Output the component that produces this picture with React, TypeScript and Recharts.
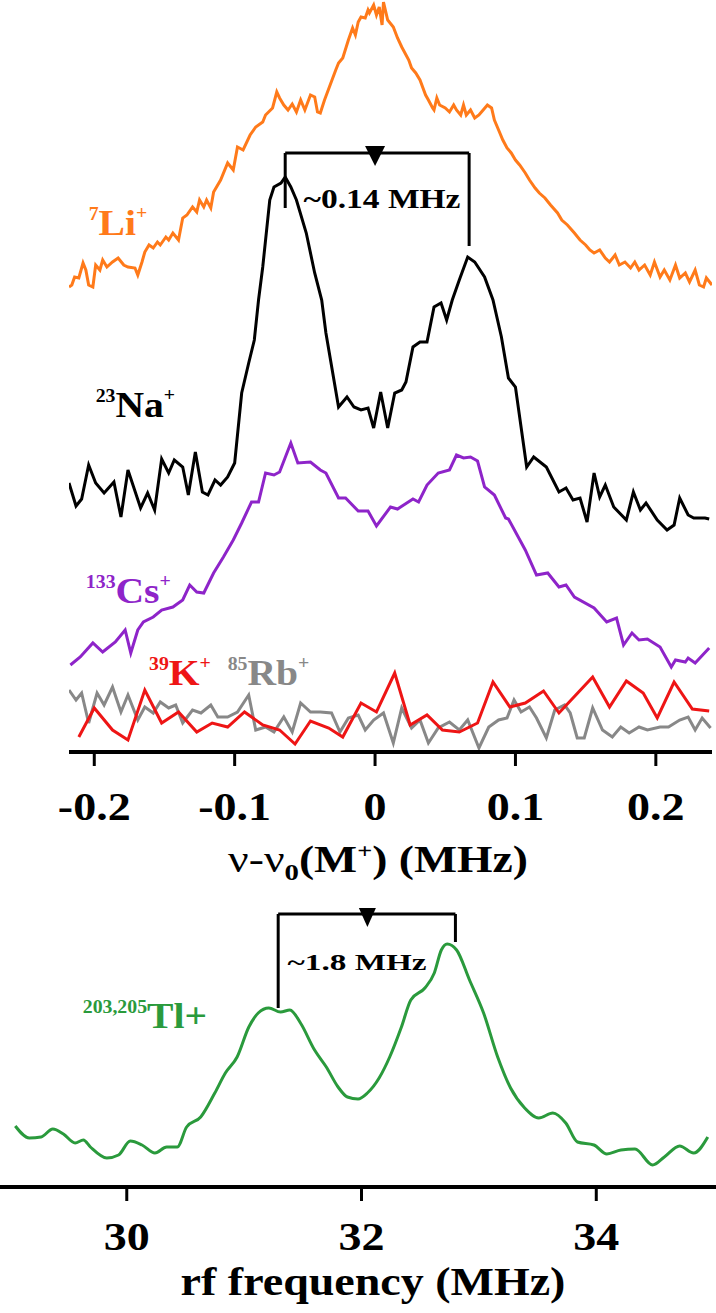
import React from 'react';
import { LineChart, Line, XAxis, YAxis, ReferenceLine, ReferenceDot } from 'recharts';

const SERIF = '"Liberation Serif", "Times New Roman", serif';

// top panel: detuning in kHz, signal in a.u. (traces already offset)
const liFreq = [-218, -216, -214, -211, -208, -206, -204, -201, -199, -196, -194, -191, -187, -183, -179, -176, -171, -169, -166, -164, -161, -158, -155, -153, -149, -147, -144, -140, -137, -134, -130, -127, -125, -122, -120, -117, -115, -110, -105, -101, -98, -94, -89, -85, -80, -78, -73, -70, -68, -65, -62, -59, -56, -53, -50, -46, -43, -41, -39, -36, -32, -28, -26, -23, -19, -16, -14, -12, -10, -7, -5, -4, -1, 1, 3, 5, 6, 9, 13, 16, 19, 24, 26, 29, 32, 36, 38, 41, 42, 44, 46, 50, 53, 56, 58, 61, 63, 65, 68, 71, 74, 77, 80, 83, 85, 88, 91, 94, 97, 100, 103, 107, 110, 114, 117, 121, 125, 130, 133, 137, 142, 146, 150, 153, 156, 160, 164, 167, 171, 174, 178, 182, 185, 188, 192, 196, 199, 203, 206, 210, 214, 217, 221, 224, 228, 231, 234, 236, 240];
const liSignal = [465, 467, 475, 474, 489, 482, 467, 465, 487, 482, 492, 485, 490, 494, 487, 485, 484, 477, 490, 500, 507, 504, 510, 507, 515, 512, 519, 512, 534, 537, 545, 540, 552, 545, 552, 544, 560, 572, 589, 582, 605, 602, 617, 625, 630, 637, 644, 660, 654, 647, 642, 648, 640, 652, 642, 657, 655, 640, 639, 652, 667, 682, 689, 694, 712, 724, 717, 730, 735, 734, 742, 739, 747, 737, 745, 727, 750, 732, 725, 714, 705, 692, 684, 679, 672, 657, 652, 644, 642, 654, 647, 644, 640, 647, 642, 637, 647, 637, 642, 634, 637, 642, 647, 644, 632, 622, 612, 604, 599, 592, 587, 579, 572, 564, 559, 554, 547, 539, 532, 527, 519, 512, 507, 502, 499, 502, 494, 490, 497, 487, 490, 484, 490, 482, 487, 477, 490, 475, 482, 472, 487, 474, 479, 470, 482, 467, 465, 474, 467];

const naFreq = [-218, -213, -209, -204, -199, -193, -186, -181, -176, -167, -162, -157, -152, -147, -143, -137, -133, -128, -123, -119, -114, -110, -105, -100, -95, -90, -86, -83, -80, -75, -72, -67, -64, -60, -56, -49, -43, -38, -35, -26, -20, -15, -10, -5, -1, 4, 9, 14, 19, 22, 27, 32, 37, 42, 47, 51, 55, 60, 66, 71, 78, 84, 90, 95, 100, 108, 113, 122, 131, 136, 141, 146, 151, 156, 160, 164, 170, 179, 184, 189, 193, 201, 208, 213, 217, 223, 227, 235, 238];
const naSignal = [269, 246, 253, 287, 269, 259, 270, 235, 282, 244, 259, 242, 293, 279, 292, 285, 257, 300, 260, 257, 272, 267, 275, 289, 359, 389, 412, 452, 485, 552, 565, 569, 575, 565, 552, 519, 479, 452, 419, 345, 355, 345, 342, 344, 324, 360, 324, 359, 362, 370, 405, 410, 410, 445, 449, 432, 452, 472, 495, 490, 475, 452, 415, 374, 365, 285, 295, 285, 260, 264, 252, 254, 230, 279, 255, 267, 245, 232, 260, 242, 249, 232, 222, 227, 254, 237, 234, 234, 233];

const csFreq = [-217, -210, -201, -194, -185, -178, -174, -169, -165, -158, -152, -144, -137, -132, -127, -122, -115, -108, -101, -95, -88, -83, -78, -72, -68, -60, -55, -46, -39, -35, -26, -21, -12, -5, 1, 11, 16, 27, 31, 37, 45, 53, 58, 63, 68, 73, 78, 85, 93, 95, 107, 115, 123, 131, 136, 142, 156, 165, 172, 177, 183, 188, 194, 203, 211, 214, 221, 223, 228, 238];
const csSignal = [87, 95, 109, 100, 110, 122, 99, 122, 130, 135, 142, 145, 152, 167, 160, 159, 179, 195, 212, 229, 250, 250, 279, 277, 280, 309, 289, 290, 282, 279, 254, 254, 241, 241, 226, 245, 243, 253, 250, 267, 279, 282, 297, 294, 295, 291, 265, 257, 234, 233, 202, 177, 179, 165, 167, 155, 144, 130, 134, 107, 119, 112, 113, 105, 85, 92, 90, 94, 89, 104];

const kFreq = [-211, -200, -187, -176, -164, -152, -140, -127, -116, -105, -93, -80, -68, -57, -46, -33, -23, -10, 1, 14, 25, 37, 48, 60, 73, 84, 96, 107, 120, 131, 143, 155, 167, 179, 191, 201, 213, 226, 238];
const kSignal = [15, 44, 22, 12, 62, 29, 40, 20, 29, 25, 40, 27, 22, 8, 31, 24, 15, 49, 40, 79, 27, 37, 22, 20, 29, 70, 45, 49, 61, 39, 57, 75, 45, 71, 59, 34, 70, 43, 41];

const rbFreq = [-218, -213, -209, -204, -198, -193, -187, -181, -176, -169, -164, -158, -153, -147, -142, -137, -130, -124, -117, -112, -105, -98, -90, -85, -78, -72, -65, -59, -53, -46, -39, -31, -25, -19, -12, -7, -1, 6, 13, 19, 26, 32, 38, 45, 53, 60, 66, 74, 81, 88, 94, 99, 104, 110, 115, 122, 128, 135, 139, 144, 149, 155, 162, 169, 175, 181, 188, 194, 203, 209, 217, 223, 228, 233, 239];
const rbSignal = [62, 52, 59, 29, 59, 47, 65, 40, 57, 32, 45, 39, 50, 44, 47, 29, 42, 39, 47, 35, 35, 40, 57, 22, 25, 20, 35, 20, 49, 40, 40, 39, 20, 34, 37, 22, 32, 39, 9, 44, 24, 32, 9, 24, 30, 22, 32, 4, 25, 32, 34, 52, 40, 45, 34, 14, 42, 47, 39, 14, 14, 44, 22, 15, 25, 19, 25, 22, 25, 25, 32, 35, 22, 34, 24];

const topTicks = [-200, -100, 0, 100, 200];

// bottom panel: rf frequency in MHz
const tlFreq = [29.05, 29.17, 29.27, 29.37, 29.46, 29.56, 29.63, 29.69, 29.83, 29.93, 30.03, 30.13, 30.24, 30.34, 30.43, 30.51, 30.63, 30.75, 30.84, 30.94, 31.04, 31.12, 31.21, 31.31, 31.39, 31.48, 31.6, 31.7, 31.8, 31.88, 31.97, 32.05, 32.15, 32.24, 32.34, 32.42, 32.54, 32.62, 32.68, 32.73, 32.81, 32.92, 33.04, 33.16, 33.27, 33.39, 33.51, 33.63, 33.74, 33.84, 33.98, 34.09, 34.21, 34.33, 34.48, 34.58, 34.71, 34.83, 34.95];
const tlSignal = [61, 49, 50, 58, 53, 44, 47, 40, 29, 32, 46, 42, 34, 40, 40, 60, 70, 94, 114, 130, 160, 174, 179, 175, 177, 164, 137, 120, 100, 90, 88, 94, 109, 130, 160, 187, 199, 214, 237, 243, 237, 207, 174, 130, 99, 79, 69, 74, 64, 45, 42, 33, 37, 38, 22, 30, 41, 34, 50];

const bottomTicks = [30, 32, 34];

const zip = (f: number[], s: number[]) => f.map((v, i) => ({ f: v, s: s[i] }));

const liData = zip(liFreq, liSignal);
const naData = zip(naFreq, naSignal);
const csData = zip(csFreq, csSignal);
const kData = zip(kFreq, kSignal);
const rbData = zip(rbFreq, rbSignal);
const tlData = zip(tlFreq, tlSignal);

const ionLabel = (mass: string, symbol: string, color: string, bigPlus = false) => (p: any) => (
  <g transform={`translate(${p.cx},${p.cy}) scale(1.1,1)`}>
    <text fontFamily={SERIF} fontWeight="bold" fill={color}>
      <tspan fontSize={18} dy={-15}>{mass}</tspan>
      <tspan fontSize={36} dy={15}>{symbol}</tspan>
      {!bigPlus && <tspan fontSize={18} dy={-16}>+</tspan>}
    </text>
  </g>
);

const triangle = (hw: number, up: number, down: number) => (p: any) => (
  <polygon points={`${p.cx - hw},${p.cy - up} ${p.cx + hw},${p.cy - up} ${p.cx},${p.cy + down}`} fill="#000" />
);

const splitText = (txt: string, size: number, len: number) => (p: any) => (
  <text x={p.cx} y={p.cy} fontFamily={SERIF} fontWeight="bold" fontSize={size} fill="#000"
    textLength={len} lengthAdjust="spacingAndGlyphs">{txt}</text>
);

const TopTick = ({ x, y, payload }: any) => (
  <g transform={`translate(${x},${y + 52}) scale(1.15,1)`}>
    <text textAnchor="middle" fontFamily={SERIF} fontWeight="bold" fontSize={40} fill="#000">
      {String(payload.value / 1000)}
    </text>
  </g>
);

const BottomTick = ({ x, y, payload }: any) => (
  <g transform={`translate(${x},${y + 47}) scale(1.15,1)`}>
    <text textAnchor="middle" fontFamily={SERIF} fontWeight="bold" fontSize={40} fill="#000">
      {payload.value}
    </text>
  </g>
);

const topTitle = () => (
  <g transform="translate(378,872) scale(1.2,1)">
    <text textAnchor="middle" fontFamily={SERIF} fontWeight="bold" fontSize={38} fill="#000">
      <tspan fontWeight="normal">ν-ν</tspan>
      <tspan fontSize={24} dy={8}>0</tspan>
      <tspan dy={-8}>(M</tspan>
      <tspan fontSize={22} dy={-14}>+</tspan>
      <tspan dy={14}>) (MHz)</tspan>
    </text>
  </g>
);

const bottomTitle = () => (
  <g transform="translate(373,405) scale(1.15,1)">
    <text textAnchor="middle" fontFamily={SERIF} fontWeight="bold" fontSize={40} fill="#000">
      rf frequency (MHz)
    </text>
  </g>
);

const seg = (x1: number, y1: number, x2: number, y2: number) => [{ x: x1, y: y1 }, { x: x2, y: y2 }];

export default function App() {
  return (
    <div style={{ position: 'absolute', left: 0, top: 0, width: 716, height: 1313, background: '#fff' }}>
      <div style={{ position: 'absolute', left: 0, top: 0 }}>
        <LineChart width={716} height={890} margin={{ top: 0, right: 4, bottom: 0, left: 69 }}>
          <XAxis dataKey="f" type="number" domain={[-218, 240]} ticks={topTicks} allowDataOverflow
            height={138} tickSize={14} tick={<TopTick />}
            axisLine={{ stroke: '#000', strokeWidth: 4 }} tickLine={{ stroke: '#000', strokeWidth: 3 }}
            label={{ content: topTitle }} />
          <YAxis type="number" domain={[0, 752]} hide />
          <Line data={rbData} dataKey="s" stroke="#888888" strokeWidth={3} dot={false} activeDot={false} isAnimationActive={false} />
          <Line data={kData} dataKey="s" stroke="#EE1515" strokeWidth={3} dot={false} activeDot={false} isAnimationActive={false} />
          <Line data={csData} dataKey="s" stroke="#8E24C9" strokeWidth={3} dot={false} activeDot={false} isAnimationActive={false} />
          <Line data={naData} dataKey="s" stroke="#000000" strokeWidth={3} dot={false} activeDot={false} isAnimationActive={false} />
          <Line data={liData} dataKey="s" stroke="#FF7A1A" strokeWidth={3} dot={false} activeDot={false} isAnimationActive={false} />
          <ReferenceLine segment={seg(-64, 544, -64, 599)} stroke="#000" strokeWidth={3} />
          <ReferenceLine segment={seg(-64, 599, 67, 599)} stroke="#000" strokeWidth={3} />
          <ReferenceLine segment={seg(67, 599, 67, 506)} stroke="#000" strokeWidth={3} />
          <ReferenceDot x={0} y={599} shape={triangle(10, 7, 13)} />
          <ReferenceDot x={-51} y={544} shape={splitText('~0.14 MHz', 27, 157)} />
          <ReferenceDot x={-204} y={517} shape={ionLabel('7', 'Li', '#FF7A1A')} />
          <ReferenceDot x={-199} y={335} shape={ionLabel('23', 'Na', '#000')} />
          <ReferenceDot x={-206} y={149} shape={ionLabel('133', 'Cs', '#8E24C9')} />
          <ReferenceDot x={-161} y={67} shape={ionLabel('39', 'K', '#EE1515')} />
          <ReferenceDot x={-105} y={67} shape={ionLabel('85', 'Rb', '#888888')} />
        </LineChart>
      </div>
      <div style={{ position: 'absolute', left: 0, top: 890 }}>
        <LineChart width={716} height={423} margin={{ top: 10, right: 0, bottom: 0, left: 0 }}>
          <XAxis dataKey="f" type="number" domain={[28.92, 35.02]} ticks={bottomTicks} allowDataOverflow
            height={126} tickSize={14} tick={<BottomTick />}
            axisLine={{ stroke: '#000', strokeWidth: 4 }} tickLine={{ stroke: '#000', strokeWidth: 3 }}
            label={{ content: bottomTitle }} />
          <YAxis type="number" domain={[0, 287]} hide />
          <Line data={tlData} dataKey="s" type="monotone" stroke="#2A9A3C" strokeWidth={3} dot={false} activeDot={false} isAnimationActive={false} />
          <ReferenceLine segment={seg(31.29, 179, 31.29, 273)} stroke="#000" strokeWidth={3} />
          <ReferenceLine segment={seg(31.29, 273, 32.8, 273)} stroke="#000" strokeWidth={3} />
          <ReferenceLine segment={seg(32.8, 273, 32.8, 245)} stroke="#000" strokeWidth={3} />
          <ReferenceDot x={32.05} y={273} shape={triangle(8.5, 6, 13)} />
          <ReferenceDot x={31.37} y={217} shape={splitText('~1.8 MHz', 24, 139)} />
          <ReferenceDot x={29.625} y={159} shape={ionLabel('203,205', 'Tl+', '#2A9A3C', true)} />
        </LineChart>
      </div>
    </div>
  );
}
